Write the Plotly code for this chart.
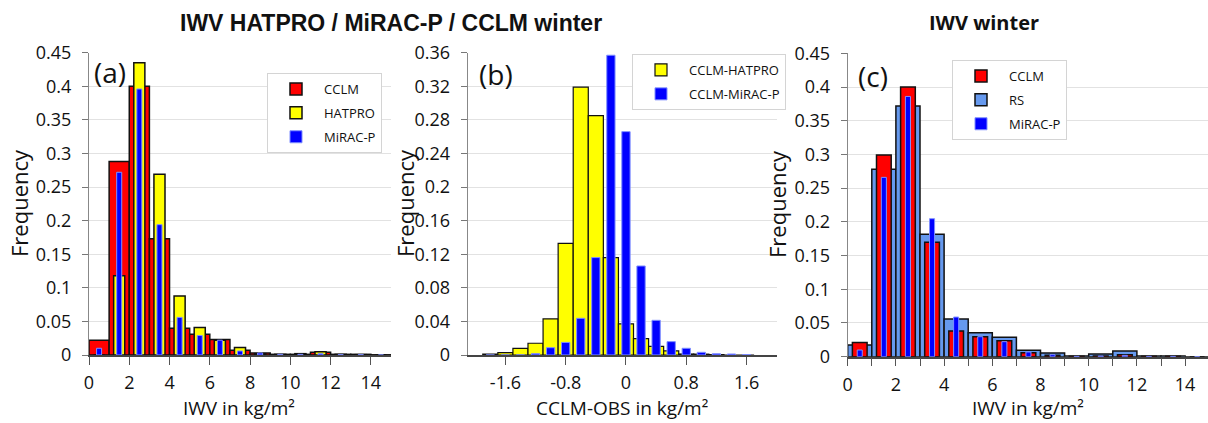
import plotly.graph_objects as go

W, H = 1208, 423

# ---------------- data ----------------
# Panel (a): IWV histograms, 1 kg/m2 bins
a_centers = [0.5, 1.5, 2.5, 3.5, 4.5, 5.5, 6.5, 7.5, 8.5, 9.5, 10.5, 11.5, 12.5, 13.5, 14.5]
a_cclm = [0.022, 0.288, 0.400, 0.173, 0.040, 0.031, 0.023, 0.007, 0.003, 0.001, 0.001, 0.004, 0.001, 0.001, 0.0003]
a_hatpro = [0.0, 0.118, 0.435, 0.269, 0.088, 0.041, 0.022, 0.011, 0.002, 0.001, 0.002, 0.005, 0.001, 0.0005, 0.0]
a_mirac = [0.010, 0.272, 0.396, 0.194, 0.056, 0.029, 0.022, 0.006, 0.003, 0.001, 0.001, 0.002, 0.0005, 0.0005, 0.0]

# Panel (b): CCLM - OBS differences, 0.2 kg/m2 bins
b_centers = [-1.8, -1.6, -1.4, -1.2, -1.0, -0.8, -0.6, -0.4, -0.2, 0.0, 0.2, 0.4, 0.6, 0.8, 1.0, 1.2, 1.4, 1.6]
b_hatpro = [0.0012, 0.0028, 0.008, 0.014, 0.043, 0.133, 0.319, 0.285, 0.116, 0.037, 0.0195, 0.0103, 0.0048, 0.0012, 0.001, 0.0005, 0.0, 0.0]
b_mirac = [0.0, 0.0, 0.0, 0.0016, 0.0087, 0.015, 0.0437, 0.116, 0.357, 0.266, 0.106, 0.0413, 0.0159, 0.008, 0.0032, 0.0015, 0.0012, 0.0005]

# Panel (c): IWV winter, 1 kg/m2 bins
c_centers = [0.5, 1.5, 2.5, 3.5, 4.5, 5.5, 6.5, 7.5, 8.5, 9.5, 10.5, 11.5, 12.5, 13.5, 14.5]
c_rs = [0.0173, 0.278, 0.372, 0.1815, 0.0559, 0.0356, 0.0287, 0.0094, 0.0054, 0.001, 0.004, 0.0084, 0.001, 0.001, 0.0]
c_cclm = [0.021, 0.299, 0.400, 0.1696, 0.038, 0.0297, 0.0237, 0.006, 0.002, 0.0005, 0.001, 0.003, 0.0005, 0.0005, 0.0]
c_mirac = [0.0099, 0.266, 0.386, 0.2047, 0.0588, 0.0297, 0.0223, 0.007, 0.003, 0.0005, 0.001, 0.002, 0.0005, 0.0005, 0.0]

# tick labels
iwv_ytickvals = [0, 0.05, 0.1, 0.15, 0.2, 0.25, 0.3, 0.35, 0.4, 0.45]
iwv_yticktext = ['0', '0.05', '0.1', '0.15', '0.2', '0.25', '0.3', '0.35', '0.4', '0.45']
diff_ytickvals = [0, 0.04, 0.08, 0.12, 0.16, 0.2, 0.24, 0.28, 0.32, 0.36]
diff_yticktext = ['0', '0.04', '0.08', '0.12', '0.16', '0.2', '0.24', '0.28', '0.32', '0.36']
a_xtickvals = [0, 2, 4, 6, 8, 10, 12, 14]
a_xticktext = ['0', '2', '4', '6', '8', '10', '12', '14']
b_xtickvals = [-1.6, -0.8, 0, 0.8, 1.6]
b_xticktext = ['-1.6', '-0.8', '0', '0.8', '1.6']
c_xtickvals = [0, 1, 2, 3, 4, 5, 6, 7, 8, 9, 10, 11, 12, 13, 14]
c_xticktext = ['0', '', '2', '', '4', '', '6', '', '8', '', '10', '', '12', '', '14']

# ---------------- styling ----------------
RED = '#ff0000'
YELLOW = '#ffff00'
BLUE = '#0000ff'
RSBLUE = '#6699ee'
EDGE = '#111111'
BLUE_EDGE = '#7f8fff'
FONT = 'Open Sans'

def px_x(p):
    return p / W

def px_y(p):
    return 1 - p / H

fig = go.Figure()

# Panel (a)
fig.add_trace(go.Bar(x=a_centers, y=a_cclm, width=1.0, name='CCLM', legend='legend',
                     legendgroup='a1', marker=dict(color=RED, line=dict(color=EDGE, width=1.5)),
                     xaxis='x', yaxis='y'))
fig.add_trace(go.Bar(x=a_centers, y=a_hatpro, width=0.55, name='HATPRO', legend='legend',
                     legendgroup='a2', marker=dict(color=YELLOW, line=dict(color=EDGE, width=1.5)),
                     xaxis='x', yaxis='y'))
fig.add_trace(go.Bar(x=a_centers, y=a_mirac, width=0.25, name='MiRAC-P', legend='legend',
                     legendgroup='a3', marker=dict(color=BLUE, line=dict(color=BLUE_EDGE, width=1)),
                     xaxis='x', yaxis='y'))

# Panel (b)
fig.add_trace(go.Bar(x=b_centers, y=b_hatpro, width=0.2, name='CCLM-HATPRO', legend='legend2',
                     legendgroup='b1', marker=dict(color=YELLOW, line=dict(color=EDGE, width=1.2)),
                     xaxis='x2', yaxis='y2'))
fig.add_trace(go.Bar(x=b_centers, y=b_mirac, width=0.11, name='CCLM-MiRAC-P', legend='legend2',
                     legendgroup='b2', marker=dict(color=BLUE, line=dict(color=BLUE_EDGE, width=1)),
                     xaxis='x2', yaxis='y2'))

# Panel (c)
fig.add_trace(go.Bar(x=c_centers, y=c_rs, width=1.0, name='RS', legend='legend3', legendrank=2,
                     legendgroup='c2', marker=dict(color=RSBLUE, line=dict(color=EDGE, width=1.5)),
                     xaxis='x3', yaxis='y3'))
fig.add_trace(go.Bar(x=c_centers, y=c_cclm, width=0.61, name='CCLM', legend='legend3', legendrank=1,
                     legendgroup='c1', marker=dict(color=RED, line=dict(color=EDGE, width=1.5)),
                     xaxis='x3', yaxis='y3'))
fig.add_trace(go.Bar(x=c_centers, y=c_mirac, width=0.21, name='MiRAC-P', legend='legend3', legendrank=3,
                     legendgroup='c3', marker=dict(color=BLUE, line=dict(color=BLUE_EDGE, width=1)),
                     xaxis='x3', yaxis='y3'))

tickfont = dict(family=FONT, size=18, color='#111111')
titlefont = dict(family=FONT, size=19, color='#111111')
ytitlefont = dict(family=FONT, size=22, color='#111111')

def xax(domain, rng, tv, tt):
    return dict(domain=domain, range=rng, tickvals=tv, ticktext=tt, ticks='outside', ticklen=8,
                tickcolor='#555555', tickwidth=1.2, showline=True, linecolor='#444444', linewidth=1.5,
                showgrid=False, zeroline=False, tickfont=tickfont, ticklabelstandoff=3,
                automargin=False, fixedrange=True)

def yax(domain, rng, tv, tt, anchor):
    return dict(domain=domain, range=rng, tickvals=tv, ticktext=tt, ticks='outside', ticklen=6,
                tickcolor='#777777', showline=True, linecolor='#888888', linewidth=1.2,
                showgrid=True, gridcolor='#e2e2e2', gridwidth=1, zeroline=False,
                tickfont=tickfont, anchor=anchor, fixedrange=True, automargin=False,
                ticklabelstandoff=7)

ydom_ab = [px_y(355), px_y(52.7)]
ydom_c = [px_y(356.7), px_y(53.3)]

xa = xax([px_x(89), px_x(391)], [0, 15], a_xtickvals, a_xticktext)
xa.update(anchor='y')
xb = xax([px_x(467.7), px_x(776.7)], [-2.1, 2.0], b_xtickvals, b_xticktext)
xb.update(anchor='y2')
xc = xax([px_x(847.7), 1.0], [0, 14.95], c_xtickvals, c_xticktext)
xc.update(anchor='y3')

legend_common = dict(xanchor='left', yanchor='top', bgcolor='white', bordercolor='#d4d4d4',
                     borderwidth=1, font=dict(family=FONT, size=13, color='#111111'),
                     traceorder='grouped', tracegroupgap=4, itemwidth=46)

fig.update_layout(
    width=W, height=H,
    margin=dict(l=0, r=0, t=0, b=0),
    paper_bgcolor='white', plot_bgcolor='white',
    barmode='overlay',
    xaxis=xa, xaxis2=xb, xaxis3=xc,
    yaxis=yax(ydom_ab, [0, 0.45], iwv_ytickvals, iwv_yticktext, 'x'),
    yaxis2=yax(ydom_ab, [0, 0.36], diff_ytickvals, diff_yticktext, 'x2'),
    yaxis3=yax(ydom_c, [0, 0.45], iwv_ytickvals, iwv_yticktext, 'x3'),
    legend=dict(x=px_x(267), y=px_y(73), **legend_common),
    legend2=dict(x=px_x(632), y=px_y(54), **legend_common),
    legend3=dict(x=px_x(952), y=px_y(60), **legend_common),
    showlegend=True,
)

annotations = [
    dict(text='<b>IWV HATPRO / MiRAC-P / CCLM winter</b>', x=px_x(391), y=px_y(23),
         xanchor='center', yanchor='middle',
         font=dict(family='Liberation Sans', size=23, color='#111111')),
    dict(text='<b>IWV winter</b>', x=px_x(984), y=px_y(23), xanchor='center', yanchor='middle',
         font=dict(family=FONT, size=20, color='#111111')),
    dict(text='(a)', x=px_x(92), y=px_y(72), xanchor='left', yanchor='middle',
         font=dict(family=FONT, size=28, color='#111111')),
    dict(text='(b)', x=px_x(477), y=px_y(74), xanchor='left', yanchor='middle',
         font=dict(family=FONT, size=28, color='#111111')),
    dict(text='(c)', x=px_x(856), y=px_y(76), xanchor='left', yanchor='middle',
         font=dict(family=FONT, size=28, color='#111111')),
    # y-axis titles
    dict(text='Frequency', x=px_x(19), y=px_y(203), textangle=-90, xanchor='center', yanchor='middle',
         font=ytitlefont),
    dict(text='Frequency', x=px_x(405), y=px_y(203), textangle=-90, xanchor='center', yanchor='middle',
         font=ytitlefont),
    dict(text='Frequency', x=px_x(777), y=px_y(204), textangle=-90, xanchor='center', yanchor='middle',
         font=ytitlefont),
    # x-axis titles
    dict(text='IWV in kg/m²', x=px_x(239), y=px_y(422.5), xanchor='center', yanchor='bottom',
         font=titlefont),
    dict(text='CCLM-OBS in kg/m²', x=px_x(622), y=px_y(422.5), xanchor='center', yanchor='bottom',
         font=titlefont),
    dict(text='IWV in kg/m²', x=px_x(1028), y=px_y(422.5), xanchor='center', yanchor='bottom',
         font=titlefont),
]
for a in annotations:
    a.update(xref='paper', yref='paper', showarrow=False)
fig.update_layout(annotations=annotations)

fig.write_html('out.html')
